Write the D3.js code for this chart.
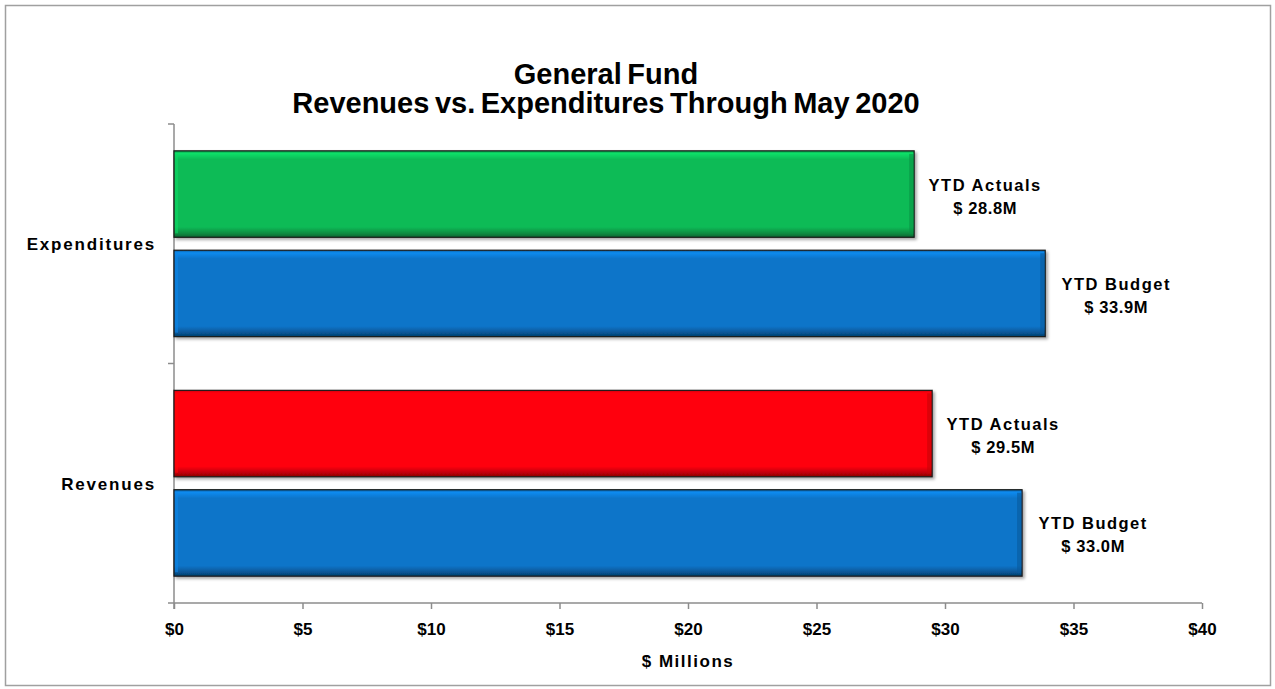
<!DOCTYPE html>
<html>
<head>
<meta charset="utf-8">
<script src="https://cdn.jsdelivr.net/npm/d3@7"></script>
<style>
  body { margin: 0; background: #fff; }
  text { font-family: "Liberation Sans", Arial, sans-serif; font-weight: bold; fill: #000; }
</style>
</head>
<body>
<svg id="viz" width="1275" height="689"></svg>
<script>
// DATA
var categories = ["Expenditures", "Revenues"];
var series = ["YTD Actuals", "YTD Budget"];
var values = {
    "Expenditures": [28.8, 33.9],
    "Revenues": [29.5, 33.0]
};
var barColors = {
    "Expenditures": ["#0bbb57", "#0a74c9"],
    "Revenues": ["#ff0509", "#0a74c9"]
};
var xTicks = [0, 5, 10, 15, 20, 25, 30, 35, 40];

var svg = d3.select("#viz");
var margin = { top: 124, left: 174, right: 73, bottom: 86 };
var w = 1275 - margin.left - margin.right,
    h = 689 - margin.top - margin.bottom;

// frame
svg.append("rect")
    .attr("x", 5.5).attr("y", 5.5)
    .attr("width", 1265).attr("height", 680)
    .attr("fill", "none").attr("stroke", "#a0a0a0").attr("stroke-width", 1.5);

// title
svg.append("text").attr("x", 606).attr("y", 84)
    .attr("text-anchor", "middle").style("font-size", "29px").style("word-spacing", "-2.5px")
    .text("General Fund");
svg.append("text").attr("x", 606).attr("y", 113)
    .attr("text-anchor", "middle").style("font-size", "29px").style("word-spacing", "-2.5px")
    .text("Revenues vs. Expenditures Through May 2020");

// gradients (bevel look)
var defs = svg.append("defs");
function shade(c, k) { return d3.color(c).darker(k).formatHex(); }
function light(c, k) { return d3.color(c).brighter(k).formatHex(); }
var uniq = Array.from(new Set([].concat(barColors.Expenditures, barColors.Revenues)));
uniq.forEach(function (c, i) {
    var g = defs.append("linearGradient").attr("id", "grad" + i)
        .attr("x1", 0).attr("y1", 0).attr("x2", 0).attr("y2", 1);
    g.append("stop").attr("offset", "0%").attr("stop-color", shade(c, 0.6));
    g.append("stop").attr("offset", "3%").attr("stop-color", light(c, 0.5));
    g.append("stop").attr("offset", "10%").attr("stop-color", c);
    g.append("stop").attr("offset", "88%").attr("stop-color", c);
    g.append("stop").attr("offset", "96%").attr("stop-color", shade(c, 0.9));
    g.append("stop").attr("offset", "100%").attr("stop-color", shade(c, 1.8));
});
var shadow = defs.append("filter").attr("id", "shadow")
    .attr("x", "-5%").attr("y", "-10%").attr("width", "110%").attr("height", "130%");
shadow.append("feDropShadow").attr("dx", 2).attr("dy", 2).attr("stdDeviation", 1.5)
    .attr("flood-color", "#000").attr("flood-opacity", 0.35);

var g = svg.append("g").attr("transform", "translate(" + margin.left + "," + margin.top + ")");

// SCALES
var xScale = d3.scaleLinear().domain([0, 40]).range([0, w]);
var yScale = d3.scaleBand().domain(categories).range([0, h]);
var yInner = d3.scaleBand().domain(series).range([0, yScale.bandwidth()])
    .paddingInner(0.13).paddingOuter(0.27);

// AXES
var xAxis = d3.axisBottom(xScale).tickValues(xTicks).tickSize(6).tickSizeOuter(0)
    .tickFormat(function (d) { return "$" + d; });
var xg = g.append("g").attr("transform", "translate(0," + h + ")").call(xAxis);
xg.select(".domain").attr("stroke", "#8c8c8c").attr("stroke-width", 1.5).attr("d", "M-6,0H" + w);
xg.selectAll(".tick line").attr("stroke", "#8c8c8c").attr("stroke-width", 1.5);
xg.selectAll(".tick text").attr("dy", 23).style("font-size", "17px").attr("fill", "#000");

// y axis: line with ticks at band boundaries
g.append("line").attr("x1", 0).attr("x2", 0).attr("y1", 0).attr("y2", h + 6)
    .attr("stroke", "#8c8c8c").attr("stroke-width", 1.5);
g.selectAll(".ytick").data(categories).enter().append("line")
    .attr("class", "ytick")
    .attr("x1", -6).attr("x2", 0)
    .attr("y1", function (d) { return yScale(d); })
    .attr("y2", function (d) { return yScale(d); })
    .attr("stroke", "#8c8c8c").attr("stroke-width", 1.5);
g.selectAll(".ylab").data(categories).enter().append("text")
    .attr("class", "ylab")
    .attr("x", -18)
    .attr("y", function (d) { return yScale(d) + yScale.bandwidth() / 2; })
    .attr("dy", "0.37em")
    .attr("text-anchor", "end")
    .style("font-size", "17px").style("letter-spacing", "1.8px")
    .text(function (d) { return d; });

// x label
g.append("text").attr("x", w / 2).attr("y", h + 64)
    .attr("text-anchor", "middle").style("font-size", "17px").style("letter-spacing", "1.5px")
    .text("$ Millions");

// BARS
var rows = [];
categories.forEach(function (c) {
    series.forEach(function (s, i) {
        rows.push({ cat: c, ser: s, val: values[c][i], color: barColors[c][i] });
    });
});

g.selectAll(".bar").data(rows).enter().append("rect")
    .attr("class", "bar")
    .attr("x", 0)
    .attr("y", function (d) { return yScale(d.cat) + yInner(d.ser); })
    .attr("width", function (d) { return xScale(d.val); })
    .attr("height", yInner.bandwidth())
    .attr("fill", function (d) { return "url(#grad" + uniq.indexOf(d.color) + ")"; })
    .attr("stroke", "#1a1a1a").attr("stroke-width", 1.2)
    .attr("filter", "url(#shadow)");

// bevel edges: light on the left, dark on the right
g.selectAll(".bevelL").data(rows).enter().append("rect")
    .attr("class", "bevelL")
    .attr("x", 1)
    .attr("y", function (d) { return yScale(d.cat) + yInner(d.ser) + 3; })
    .attr("width", 3)
    .attr("height", yInner.bandwidth() - 7)
    .attr("fill", function (d) { return light(d.color, 0.4); })
    .attr("opacity", 0.6);
g.selectAll(".bevel").data(rows).enter().append("rect")
    .attr("class", "bevel")
    .attr("x", function (d) { return xScale(d.val) - 5; })
    .attr("y", function (d) { return yScale(d.cat) + yInner(d.ser) + 3; })
    .attr("width", 4)
    .attr("height", yInner.bandwidth() - 6)
    .attr("fill", function (d) { return shade(d.color, 0.7); })
    .attr("opacity", 0.6);

// value labels
var labs = g.selectAll(".vlab").data(rows).enter().append("text")
    .attr("class", "vlab")
    .attr("text-anchor", "middle")
    .attr("x", function (d) { return xScale(d.val) + 71; })
    .attr("y", function (d) { return yScale(d.cat) + yInner(d.ser) + yInner.bandwidth() / 2; })
    .style("font-size", "16.5px").style("letter-spacing", "1.5px");
labs.append("tspan").attr("dy", -3.5)
    .text(function (d) { return d.ser; });
labs.append("tspan")
    .attr("x", function (d) { return xScale(d.val) + 71; })
    .attr("dy", 23)
    .style("letter-spacing", "0.6px")
    .text(function (d) { return "$ " + d.val.toFixed(1) + "M"; });
</script>
</body>
</html>
